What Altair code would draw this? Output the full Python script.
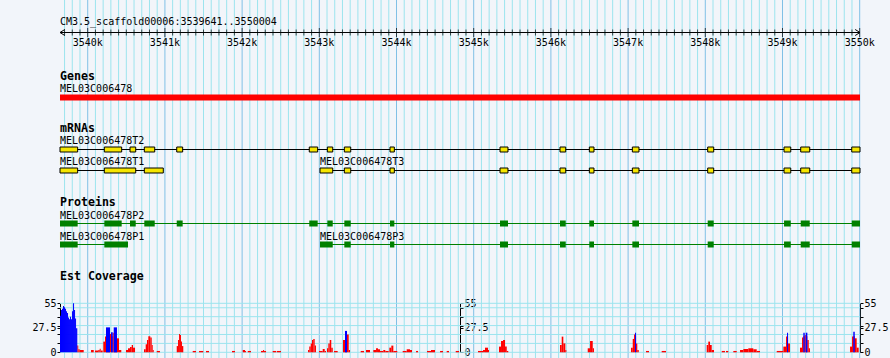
import altair as alt
import pandas as pd

# ---------------- data ----------------
REGION_START = 3539641
REGION_END = 3550004
REGION_LABEL = "CM3.5_scaffold00006:3539641..3550004"

major_ticks = [3540000, 3541000, 3542000, 3543000, 3544000, 3545000,
               3546000, 3547000, 3548000, 3549000, 3550000]
major_labels = ["3540k", "3541k", "3542k", "3543k", "3544k", "3545k",
                "3546k", "3547k", "3548k", "3549k", "3550k"]
minor_ticks = [p for p in range(3539700, 3550001, 100) if p % 1000 != 0]

track_titles = ["Genes", "mRNAs", "Proteins", "Est Coverage"]

gene_name = "MEL03C006478"
gene_start = 3539641
gene_end = 3550004

t2_name = "MEL03C006478T2"
t2_starts = [3539641, 3540215, 3540548, 3540733, 3541153, 3542870, 3543104, 3543324, 3543916,
             3545341, 3546118, 3546498, 3547055, 3548031, 3549020, 3549236, 3549897]
t2_ends = [3539870, 3540440, 3540622, 3540868, 3541230, 3542979, 3543174, 3543407, 3543972,
           3545444, 3546192, 3546558, 3547141, 3548109, 3549107, 3549353, 3550004]
t1_name = "MEL03C006478T1"
t1_starts = [3539641, 3540215, 3540733]
t1_ends = [3539870, 3540622, 3540979]
t3_name = "MEL03C006478T3"
t3_starts = [3543009, 3543324, 3543916, 3545341, 3546118, 3546498, 3547055, 3548031,
             3549020, 3549236, 3549897]
t3_ends = [3543174, 3543407, 3543972, 3545444, 3546192, 3546558, 3547141, 3548109,
           3549107, 3549353, 3550004]

p2_name = "MEL03C006478P2"
p2_starts = t2_starts
p2_ends = t2_ends
p1_name = "MEL03C006478P1"
p1_starts = [3539641, 3540215]
p1_ends = [3539870, 3540522]
p3_name = "MEL03C006478P3"
p3_starts = t3_starts
p3_ends = t3_ends

cov_axis_values = [0, 10, 20, 27.5, 30, 40, 50, 55]
cov_label_values = [0, 27.5, 55]
cov_grid_values = [0, 10, 20, 30, 40, 50, 55]

blue_start = [3539641, 3539654, 3539667, 3539680, 3539693, 3539706, 3539719, 3539732, 3539745,
              3539758, 3539771, 3539784, 3539797, 3539810, 3539823, 3539836, 3539849,
              3540237, 3540302, 3540337, 3543333, 3547090, 3549059, 3549270, 3549301, 3549917]
blue_end = [3539654, 3539667, 3539680, 3539693, 3539706, 3539719, 3539732, 3539745, 3539758,
            3539771, 3539784, 3539797, 3539810, 3539823, 3539836, 3539849, 3539865,
            3540289, 3540324, 3540379, 3543359, 3547103, 3549072, 3549288, 3549322, 3549936]
blue_cov = [41, 47.5, 49, 52, 50.5, 49, 46, 44, 39, 37, 40, 37, 46, 55, 47.5, 38, 27,
            28, 22.4, 28, 24, 22, 22, 22, 22, 23]

red_start = [3539865, 3539878, 3539896, 3540043, 3540094, 3540137, 3540155, 3540168, 3540202,
             3540224, 3540237, 3540289, 3540302, 3540324, 3540337, 3540379, 3540405, 3540496,
             3540522, 3540548, 3540570, 3540587, 3540729, 3540751, 3540768, 3540785, 3540811,
             3540829, 3540842, 3540894, 3541153, 3541170, 3541183, 3541195, 3541208, 3541221,
             3541360, 3541442, 3541532, 3541869, 3542008, 3542038, 3542073, 3542245, 3542271,
             3542284, 3542396, 3542448, 3542854, 3542870, 3542889, 3542905, 3542922, 3542940,
             3542996, 3543044, 3543070, 3543100, 3543117, 3543135, 3543155, 3543190, 3543307,
             3543333, 3543359, 3543381, 3543536, 3543605, 3543700, 3543735, 3543760, 3543786,
             3543829, 3543855, 3543907, 3543933, 3543959, 3544080, 3544132, 3544175, 3544253,
             3544395, 3544447, 3544564, 3544650, 3544767, 3545056, 3545121, 3545146, 3545185,
             3545328, 3545354, 3545380, 3545406, 3545428, 3546118, 3546140, 3546161, 3546187,
             3546477, 3546507, 3546542, 3547038, 3547060, 3547077, 3547090, 3547103, 3547119,
             3547232, 3547435, 3548018, 3548039, 3548061, 3548083, 3548213, 3548268, 3548363,
             3548450, 3548493, 3548557, 3548622, 3548666, 3548925, 3549011, 3549046, 3549059,
             3549072, 3549227, 3549253, 3549270, 3549288, 3549301, 3549322, 3549340, 3549875,
             3549901, 3549917, 3549936, 3549961]
red_end = [3539878, 3539896, 3539948, 3540078, 3540137, 3540155, 3540168, 3540194, 3540224,
           3540237, 3540289, 3540302, 3540324, 3540337, 3540379, 3540405, 3540435, 3540522,
           3540548, 3540570, 3540587, 3540613, 3540751, 3540768, 3540785, 3540811, 3540829,
           3540842, 3540855, 3540936, 3541170, 3541183, 3541195, 3541208, 3541221, 3541238,
           3541403, 3541497, 3541571, 3541908, 3542038, 3542051, 3542115, 3542271, 3542284,
           3542310, 3542439, 3542504, 3542870, 3542889, 3542905, 3542922, 3542940, 3542957,
           3543044, 3543070, 3543087, 3543117, 3543135, 3543155, 3543174, 3543238, 3543333,
           3543359, 3543381, 3543398, 3543579, 3543657, 3543735, 3543760, 3543786, 3543829,
           3543855, 3543899, 3543933, 3543959, 3544010, 3544132, 3544175, 3544201, 3544279,
           3544447, 3544499, 3544602, 3544680, 3544810, 3545121, 3545146, 3545185, 3545198,
           3545354, 3545380, 3545406, 3545428, 3545448, 3546140, 3546161, 3546187, 3546200,
           3546507, 3546542, 3546558, 3547060, 3547077, 3547090, 3547103, 3547119, 3547138,
           3547271, 3547491, 3548039, 3548061, 3548083, 3548113, 3548255, 3548298, 3548407,
           3548493, 3548557, 3548622, 3548666, 3548709, 3549011, 3549046, 3549059, 3549072,
           3549097, 3549253, 3549270, 3549288, 3549301, 3549322, 3549340, 3549356, 3549901,
           3549917, 3549936, 3549961, 3549987]
red_cov = [7.5, 3.4, 2.6, 2.6, 2, 2.6, 4, 2, 12,
           17.6, 20, 20.6, 18, 22, 18, 15.7, 2.6, 2.6,
           4.5, 6, 8.2, 5.2, 3.4, 9, 13.8, 18, 16.5,
           8.2, 2.6, 1.5, 7, 13.8, 20.6, 19.5, 12, 7,
           1.5, 1.5, 1.5, 1.5, 2.6, 1.5, 1.5, 1.5, 2.6,
           1.5, 1.5, 1.5, 2.6, 6.4, 10, 13.8, 15, 7.5,
           1.5, 3.7, 1.5, 4.5, 10, 13.8, 5.2, 1.5, 13.8,
           20, 20, 2.6, 1.5, 2.6, 2.6, 4.5, 3.4, 1.5,
           2.6, 1.5, 5.2, 7.5, 1.5, 1.5, 3.4, 2.6, 1.5,
           1.5, 2.6, 1.5, 1.5, 1.5, 1.5, 2.6, 5.2, 2.6,
           6.4, 12.7, 13.8, 6.4, 1.5, 8.2, 17.6, 10, 2.6,
           4.5, 12.7, 4.5, 5.2, 15, 20, 18, 10, 2.6,
           1.5, 1.5, 8.2, 12, 8.2, 2.6, 1.5, 1.5, 1.5,
           2.6, 3.7, 4.5, 3.4, 1.5, 1.5, 6.4, 17.6, 18,
           10, 5.2, 16.5, 18, 19.5, 18, 13.8, 4.5, 6.4,
           17.6, 18, 15.7, 5.2]

# ---------------- styling / layout ----------------
FONT = "DejaVu Sans Mono"
BG = "#F2F5FA"
GRID_MINOR = "#9CE4EE"
GRID_MAJOR = "#80C0E6"
EXON_FILL = "#F6E600"
CDS_FILL = "#008000"
W, H = 800, 358

XS = alt.Scale(domain=[REGION_START, REGION_END], nice=False, zero=False)
COV = alt.Scale(domain=[0, 55], range=[352.3, 303.3], nice=False, zero=False)

LABEL_TEST = " || ".join(f"datum.value == {v}" for v in cov_label_values)


def xq(field):
    return alt.X(f"{field}:Q", scale=XS, axis=None)


def cov_axis(orient, offset):
    return alt.Axis(orient=orient, offset=offset, values=cov_axis_values, title=None, grid=False,
                    labelExpr=f"({LABEL_TEST}) ? toString(datum.value) : ''",
                    labelFont=FONT, labelFontSize=10, labelColor="black", labelPadding=1,
                    domainColor="black", tickColor="black", tickSize=3, labelFlush=False,
                    labelOverlap=False)


def text_at(df, xenc, ypx, bold=False):
    return alt.Chart(df).mark_text(
        align="left", baseline="alphabetic", font=FONT,
        fontSize=11.6 if bold else 10, fontWeight="bold" if bold else "normal", color="black"
    ).encode(x=xenc, y=alt.value(ypx), text="label:N")


def transcript(starts, ends, name, line_y, box_top, box_bot, label_y, fill, line_color, stroke):
    ex = pd.DataFrame({"start": starts, "end": ends})
    span = pd.DataFrame({"start": [min(starts)], "end": [max(ends)], "label": [name]})
    line = alt.Chart(span).mark_rule(color=line_color, strokeWidth=1).encode(
        x=xq("start"), x2="end:Q", y=alt.value(line_y))
    mk = dict(fill=fill)
    if stroke:
        mk.update(stroke="black", strokeWidth=1)
    boxes = alt.Chart(ex).mark_rect(**mk).encode(
        x=xq("start"), x2="end:Q", y=alt.value(box_top), y2=alt.value(box_bot))
    lab = text_at(span, xq("start"), label_y)
    return [line, boxes, lab]


layers = []

# vertical grid
layers.append(alt.Chart(pd.DataFrame({"pos": minor_ticks})).mark_rule(
    color=GRID_MINOR, strokeWidth=1).encode(x=xq("pos"), y=alt.value(0), y2=alt.value(H)))
layers.append(alt.Chart(pd.DataFrame({"pos": major_ticks})).mark_rule(
    color=GRID_MAJOR, strokeWidth=1).encode(x=xq("pos"), y=alt.value(0), y2=alt.value(H)))

# ruler
ruler = pd.DataFrame({"start": [REGION_START], "end": [REGION_END], "label": [REGION_LABEL]})
layers.append(text_at(ruler, alt.value(0), 25))
layers.append(alt.Chart(ruler).mark_rule(color="black", strokeWidth=1).encode(
    x=xq("start"), x2="end:Q", y=alt.value(32.5)))
layers.append(alt.Chart(pd.DataFrame({"pos": minor_ticks})).mark_tick(
    color="black", size=6, thickness=1, orient="vertical").encode(x=xq("pos"), y=alt.value(32.5)))
layers.append(alt.Chart(pd.DataFrame({"pos": major_ticks})).mark_tick(
    color="black", size=9, thickness=1, orient="vertical").encode(x=xq("pos"), y=alt.value(32.5)))
layers.append(alt.Chart(pd.DataFrame({"pos": major_ticks, "label": major_labels})).mark_text(
    align="center", baseline="alphabetic", font=FONT, fontSize=10, color="black").encode(
    x=xq("pos"), y=alt.value(46), text="label:N"))
layers.append(alt.Chart(ruler).mark_point(
    shape="M1.6,-1L0,0L1.6,1", size=36, filled=False, color="black", strokeWidth=1, opacity=1
).encode(x=xq("start"), y=alt.value(32.5)))
layers.append(alt.Chart(ruler).mark_point(
    shape="M-1.6,-1L0,0L-1.6,1", size=36, filled=False, color="black", strokeWidth=1, opacity=1
).encode(x=xq("end"), y=alt.value(32.5)))

# track titles
for title, ty in zip(track_titles, [80, 132, 206, 280]):
    layers.append(text_at(pd.DataFrame({"label": [title]}), alt.value(0), ty, bold=True))

# genes
gene = pd.DataFrame({"start": [gene_start], "end": [gene_end], "label": [gene_name]})
layers.append(text_at(gene, xq("start"), 92))
layers.append(alt.Chart(gene).mark_rect(color="#FF0000").encode(
    x=xq("start"), x2="end:Q", y=alt.value(94.5), y2=alt.value(100.5)))

# mRNAs
layers += transcript(t2_starts, t2_ends, t2_name, 149.5, 147, 152, 144, EXON_FILL, "black", True)
layers += transcript(t1_starts, t1_ends, t1_name, 170.5, 168, 173, 165, EXON_FILL, "black", True)
layers += transcript(t3_starts, t3_ends, t3_name, 170.5, 168, 173, 165, EXON_FILL, "black", True)

# proteins
layers += transcript(p2_starts, p2_ends, p2_name, 223.5, 220.5, 226.5, 219, CDS_FILL, CDS_FILL, False)
layers += transcript(p1_starts, p1_ends, p1_name, 244.5, 241.5, 247.5, 240, CDS_FILL, CDS_FILL, False)
layers += transcript(p3_starts, p3_ends, p3_name, 244.5, 241.5, 247.5, 240, CDS_FILL, CDS_FILL, False)

# coverage
layers.append(alt.Chart(pd.DataFrame({"v": cov_grid_values})).mark_rule(
    color=GRID_MINOR, strokeWidth=1).encode(
    x=alt.value(0), x2=alt.value(W), y=alt.Y("v:Q", scale=COV, axis=cov_axis("right", 0))))
red = pd.DataFrame({"start": red_start, "end": red_end, "cov": red_cov, "zero": 0})
blue = pd.DataFrame({"start": blue_start, "end": blue_end, "cov": blue_cov, "zero": 0})
layers.append(alt.Chart(red).mark_rect(color="#FF0000").encode(
    x=xq("start"), x2="end:Q", y=alt.Y("cov:Q", scale=COV, axis=cov_axis("left", 0)), y2="zero:Q"))
layers.append(alt.Chart(blue).mark_rect(color="#0000FF").encode(
    x=xq("start"), x2="end:Q", y=alt.Y("cov:Q", scale=COV, axis=cov_axis("right", -400)), y2="zero:Q"))

chart = alt.layer(*layers).properties(
    width=W, height=H,
    padding={"left": 60, "right": 30, "top": 0, "bottom": 0},
    autosize=alt.AutoSizeParams(type="none"),
    background=BG,
).resolve_axis(y="independent").configure_view(stroke=None)

chart.save("out.html", embed_options={"renderer": "svg", "actions": False})
